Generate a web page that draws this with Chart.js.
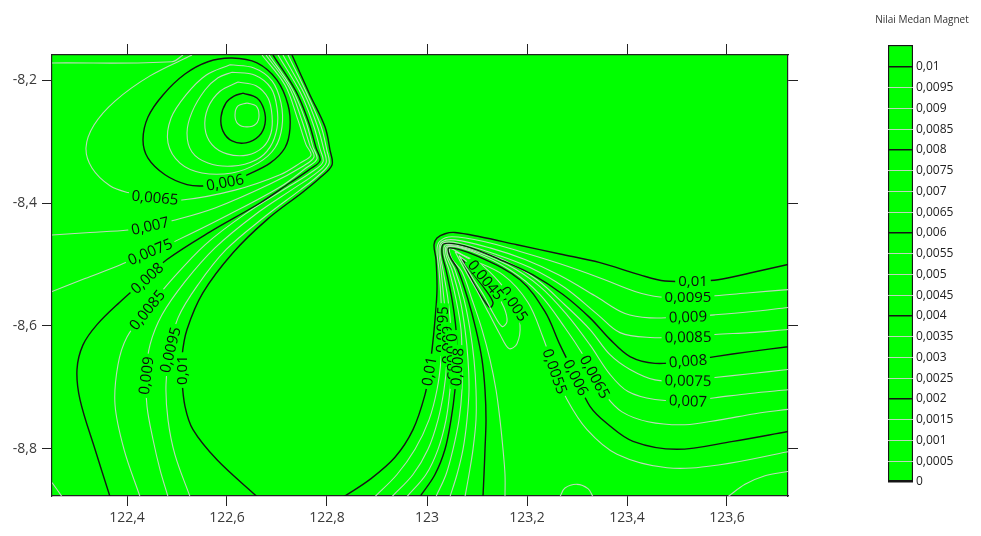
<!DOCTYPE html>
<html>
<head>
<meta charset="utf-8">
<script src="https://cdn.jsdelivr.net/npm/chart.js@4.4.1/dist/chart.umd.min.js"></script>
<style>
  body { margin: 0; background: #fff; width: 981px; height: 536px; overflow: hidden; position: relative; }
  #grafico { position: absolute; left: 0; top: 0; }
  #barra { position: absolute; left: 840px; top: 0; }
</style>
</head>
<body>
<canvas id="grafico" width="840" height="536"></canvas>
<canvas id="barra" width="141" height="536"></canvas>
<script>
// Marcas y rangos de los ejes
const ticksX = [122.4, 122.6, 122.8, 123, 123.2, 123.4, 123.6];
const ticksY = [-8.2, -8.4, -8.6, -8.8];
const rangoX = [122.25, 123.722];
const rangoY = [-8.877, -8.159];

// Niveles de la barra de colores
const nivelesBarra = [0, 0.0005, 0.001, 0.0015, 0.002, 0.0025, 0.003, 0.0035, 0.004, 0.0045, 0.005,
  0.0055, 0.006, 0.0065, 0.007, 0.0075, 0.008, 0.0085, 0.009, 0.0095, 0.01];
const maxBarra = 0.01053;

// Isolineas zona izquierda [lon, lat]
const izq_0065a = [[122.250,-8.172],[122.490,-8.170],[122.512,-8.159]];
const izq_0065 = [[122.670,-8.159],[122.716,-8.208],[122.742,-8.265],[122.758,-8.305],[122.768,-8.322],
  [122.746,-8.335],[122.706,-8.354],[122.616,-8.379],[122.510,-8.395],[122.456,-8.391],[122.402,-8.383],
  [122.366,-8.372],[122.330,-8.343],[122.318,-8.310],[122.334,-8.273],[122.376,-8.234],[122.446,-8.193],[122.530,-8.159]];
const izq_007 = [[122.678,-8.159],[122.724,-8.211],[122.750,-8.266],[122.766,-8.307],[122.774,-8.325],
  [122.752,-8.340],[122.686,-8.369],[122.576,-8.408],[122.490,-8.429],[122.446,-8.437],[122.402,-8.444],
  [122.326,-8.448],[122.250,-8.452]];
const izq_0075 = [[122.684,-8.159],[122.730,-8.214],[122.758,-8.268],[122.772,-8.309],[122.780,-8.328],
  [122.758,-8.343],[122.706,-8.374],[122.606,-8.418],[122.502,-8.460],[122.446,-8.479],[122.386,-8.501],
  [122.316,-8.523],[122.250,-8.544]];
const izq_0075b = [[122.250,-8.855],[122.270,-8.878]];
const izq_008 = [[122.692,-8.159],[122.738,-8.218],[122.764,-8.270],[122.778,-8.310],[122.786,-8.331],
  [122.764,-8.346],[122.726,-8.367],[122.666,-8.400],[122.566,-8.447],[122.480,-8.492],[122.440,-8.522],
  [122.386,-8.561],[122.340,-8.598],[122.312,-8.631],[122.300,-8.671],[122.306,-8.720],[122.336,-8.801],[122.366,-8.878]];
const izq_0085 = [[122.702,-8.159],[122.746,-8.219],[122.772,-8.271],[122.786,-8.312],[122.792,-8.333],
  [122.770,-8.349],[122.726,-8.372],[122.636,-8.418],[122.556,-8.468],[122.486,-8.528],[122.440,-8.574],
  [122.400,-8.618],[122.382,-8.663],[122.376,-8.728],[122.394,-8.801],[122.426,-8.878]];
const izq_009 = [[122.712,-8.159],[122.754,-8.221],[122.780,-8.273],[122.794,-8.314],[122.798,-8.335],
  [122.776,-8.353],[122.736,-8.375],[122.656,-8.419],[122.576,-8.473],[122.516,-8.528],[122.470,-8.582],
  [122.446,-8.631],[122.438,-8.681],[122.440,-8.731],[122.452,-8.785],[122.466,-8.834],[122.482,-8.878]];
const izq_0095 = [[122.722,-8.159],[122.760,-8.222],[122.788,-8.275],[122.800,-8.315],[122.804,-8.336],
  [122.782,-8.356],[122.746,-8.379],[122.676,-8.422],[122.598,-8.476],[122.542,-8.533],[122.502,-8.587],
  [122.486,-8.639],[122.478,-8.696],[122.482,-8.753],[122.496,-8.810],[122.526,-8.878]];
const izq_01 = [[122.730,-8.159],[122.766,-8.224],[122.796,-8.276],[122.806,-8.314],[122.810,-8.338],
  [122.786,-8.359],[122.752,-8.382],[122.680,-8.427],[122.612,-8.481],[122.552,-8.546],[122.520,-8.606],
  [122.510,-8.650],[122.510,-8.687],[122.516,-8.731],[122.532,-8.769],[122.580,-8.818],[122.660,-8.878]];

// Anillos del minimo superior izquierdo
const anillo_006 = [[122.636,-8.356],[122.686,-8.335],[122.716,-8.310],[122.726,-8.278],[122.722,-8.240],
  [122.700,-8.200],[122.660,-8.172],[122.610,-8.164],[122.562,-8.170],[122.516,-8.190],[122.472,-8.224],
  [122.442,-8.260],[122.432,-8.297],[122.442,-8.327],[122.476,-8.354],[122.520,-8.370],[122.556,-8.372],
  [122.596,-8.366],[122.636,-8.356]];
const anillo_0055 = [[122.606,-8.175],[122.654,-8.180],[122.690,-8.201],[122.708,-8.237],[122.710,-8.276],
  [122.696,-8.310],[122.662,-8.335],[122.610,-8.351],[122.550,-8.351],[122.506,-8.335],[122.482,-8.302],
  [122.488,-8.262],[122.518,-8.224],[122.558,-8.192],[122.606,-8.175]];
const anillo_005 = [[122.610,-8.187],[122.656,-8.192],[122.688,-8.213],[122.700,-8.245],[122.700,-8.278],
  [122.686,-8.309],[122.658,-8.330],[122.610,-8.340],[122.562,-8.335],[122.530,-8.317],[122.520,-8.286],
  [122.530,-8.252],[122.556,-8.216],[122.582,-8.196],[122.610,-8.187]];
const anillo_0045 = [[122.622,-8.203],[122.658,-8.209],[122.682,-8.229],[122.690,-8.257],[122.688,-8.286],
  [122.672,-8.309],[122.640,-8.322],[122.600,-8.320],[122.570,-8.305],[122.556,-8.278],[122.562,-8.245],
  [122.586,-8.218],[122.622,-8.203]];
const anillo_004 = [[122.632,-8.221],[122.660,-8.229],[122.674,-8.248],[122.676,-8.271],[122.664,-8.291],
  [122.638,-8.302],[122.610,-8.299],[122.592,-8.283],[122.588,-8.260],[122.598,-8.237],[122.614,-8.226],[122.632,-8.221]];
const anillo_0035 = [[122.640,-8.237],[122.658,-8.242],[122.664,-8.257],[122.658,-8.271],[122.640,-8.276],
  [122.622,-8.271],[122.616,-8.257],[122.622,-8.242],[122.640,-8.237]];

// Isolineas zona derecha: rama que baja + rama hacia la derecha
const der_01 = [[122.834,-8.878],[122.886,-8.850],[122.936,-8.814],[122.972,-8.769],[122.996,-8.712],
  [123.004,-8.674],[123.010,-8.639],[123.016,-8.590],[123.020,-8.541],[123.018,-8.492],[123.014,-8.468],
  [123.020,-8.457],[123.036,-8.450],[123.056,-8.448],[123.106,-8.455],[123.180,-8.468],[123.266,-8.483],
  [123.346,-8.497],[123.426,-8.517],[123.476,-8.527],[123.532,-8.527],[123.582,-8.525],[123.646,-8.514],[123.722,-8.500]];
const der_0095 = [[122.896,-8.878],[122.940,-8.842],[122.976,-8.801],[123.004,-8.753],[123.020,-8.704],
  [123.028,-8.655],[123.030,-8.606],[123.028,-8.557],[123.024,-8.509],[123.020,-8.476],[123.026,-8.462],
  [123.050,-8.455],[123.116,-8.463],[123.186,-8.479],[123.266,-8.499],[123.346,-8.522],[123.416,-8.544],
  [123.466,-8.553],[123.522,-8.553],[123.576,-8.551],[123.646,-8.546],[123.722,-8.541]];
const der_009 = [[122.930,-8.878],[122.972,-8.842],[123.002,-8.801],[123.022,-8.753],[123.034,-8.704],
  [123.040,-8.655],[123.040,-8.606],[123.034,-8.557],[123.028,-8.509],[123.024,-8.476],[123.030,-8.463],
  [123.056,-8.460],[123.126,-8.473],[123.196,-8.492],[123.266,-8.518],[123.336,-8.551],[123.396,-8.580],
  [123.446,-8.587],[123.522,-8.585],[123.576,-8.582],[123.646,-8.577],[123.722,-8.570]];
const der_0085 = [[122.960,-8.878],[122.998,-8.842],[123.022,-8.801],[123.038,-8.753],[123.046,-8.704],
  [123.050,-8.655],[123.048,-8.606],[123.042,-8.557],[123.032,-8.509],[123.026,-8.479],[123.032,-8.465],
  [123.062,-8.465],[123.136,-8.483],[123.206,-8.505],[123.276,-8.538],[123.342,-8.582],[123.386,-8.611],
  [123.446,-8.619],[123.522,-8.618],[123.576,-8.614],[123.646,-8.611],[123.722,-8.606]];
const der_008 = [[122.986,-8.878],[123.016,-8.842],[123.036,-8.801],[123.048,-8.753],[123.056,-8.704],
  [123.060,-8.655],[123.058,-8.606],[123.050,-8.557],[123.038,-8.509],[123.030,-8.481],[123.034,-8.466],
  [123.080,-8.471],[123.146,-8.492],[123.212,-8.517],[123.272,-8.549],[123.326,-8.587],[123.366,-8.622],
  [123.406,-8.650],[123.456,-8.661],[123.522,-8.657],[123.576,-8.650],[123.646,-8.642],[123.722,-8.634]];
const der_0075 = [[123.018,-8.878],[123.038,-8.842],[123.052,-8.801],[123.064,-8.753],[123.070,-8.704],
  [123.070,-8.655],[123.068,-8.606],[123.058,-8.557],[123.044,-8.509],[123.034,-8.483],[123.038,-8.468],
  [123.082,-8.473],[123.156,-8.494],[123.220,-8.525],[123.276,-8.566],[123.326,-8.606],[123.366,-8.647],
  [123.406,-8.671],[123.456,-8.688],[123.522,-8.689],[123.576,-8.684],[123.646,-8.678],[123.722,-8.671]];
const der_007 = [[123.046,-8.878],[123.060,-8.842],[123.072,-8.801],[123.080,-8.753],[123.084,-8.704],
  [123.082,-8.655],[123.076,-8.606],[123.066,-8.557],[123.050,-8.509],[123.038,-8.484],[123.040,-8.470],
  [123.086,-8.476],[123.162,-8.501],[123.226,-8.536],[123.280,-8.582],[123.326,-8.631],[123.366,-8.679],
  [123.402,-8.707],[123.456,-8.720],[123.522,-8.722],[123.576,-8.717],[123.646,-8.710],[123.722,-8.704]];
const der_0065 = [[123.076,-8.878],[123.084,-8.842],[123.092,-8.801],[123.098,-8.753],[123.098,-8.704],
  [123.094,-8.655],[123.086,-8.606],[123.074,-8.557],[123.056,-8.509],[123.042,-8.486],[123.042,-8.471],
  [123.090,-8.479],[123.166,-8.509],[123.226,-8.549],[123.276,-8.603],[123.312,-8.647],[123.336,-8.683],
  [123.358,-8.714],[123.390,-8.740],[123.442,-8.756],[123.516,-8.761],[123.586,-8.753],[123.656,-8.743],[123.722,-8.736]];
const der_006 = [[123.112,-8.878],[123.114,-8.842],[123.116,-8.801],[123.118,-8.753],[123.116,-8.704],
  [123.110,-8.655],[123.098,-8.606],[123.082,-8.557],[123.062,-8.509],[123.046,-8.487],[123.044,-8.473],
  [123.102,-8.487],[123.186,-8.525],[123.236,-8.577],[123.266,-8.631],[123.298,-8.684],[123.326,-8.731],
  [123.360,-8.759],[123.412,-8.788],[123.500,-8.801],[123.612,-8.788],[123.722,-8.772]];
const der_0055 = [[123.156,-8.878],[123.156,-8.842],[123.152,-8.801],[123.146,-8.753],[123.138,-8.704],
  [123.126,-8.655],[123.110,-8.606],[123.090,-8.557],[123.070,-8.512],[123.050,-8.491],[123.046,-8.474],
  [123.080,-8.489],[123.152,-8.517],[123.202,-8.562],[123.232,-8.619],[123.256,-8.674],[123.280,-8.720],
  [123.320,-8.769],[123.380,-8.809],[123.480,-8.831],[123.586,-8.826],[123.722,-8.805]];
const der_005 = [[123.056,-8.479],[123.106,-8.499],[123.146,-8.530],[123.174,-8.564],[123.186,-8.598],
  [123.180,-8.629],[123.164,-8.637],[123.146,-8.614],[123.124,-8.580],[123.102,-8.546],[123.078,-8.512],[123.056,-8.479]];
const der_0045 = [[123.064,-8.486],[123.102,-8.510],[123.134,-8.541],[123.154,-8.570],[123.160,-8.593],
  [123.150,-8.601],[123.132,-8.579],[123.114,-8.551],[123.092,-8.523],[123.064,-8.486]];
const der_004 = [[123.070,-8.491],[123.092,-8.515],[123.116,-8.540],[123.132,-8.562],[123.126,-8.570],
  [123.112,-8.556],[123.096,-8.535],[123.074,-8.499],[123.070,-8.491]];
const abajo_005a = [[123.266,-8.878],[123.276,-8.864],[123.300,-8.858],[123.322,-8.865],[123.332,-8.878]];
const abajo_005b = [[123.602,-8.878],[123.636,-8.858],[123.676,-8.844],[123.722,-8.837]];

// Nivel de cada isolinea
const isolineas = [
  [0.0065, izq_0065a], [0.0065, izq_0065], [0.007, izq_007], [0.0075, izq_0075], [0.0075, izq_0075b],
  [0.008, izq_008], [0.0085, izq_0085], [0.009, izq_009], [0.0095, izq_0095], [0.01, izq_01],
  [0.006, anillo_006], [0.0055, anillo_0055], [0.005, anillo_005], [0.0045, anillo_0045],
  [0.004, anillo_004], [0.0035, anillo_0035],
  [0.01, der_01], [0.0095, der_0095], [0.009, der_009], [0.0085, der_0085], [0.008, der_008],
  [0.0075, der_0075], [0.007, der_007], [0.0065, der_0065], [0.006, der_006], [0.0055, der_0055],
  [0.005, der_005], [0.0045, der_0045], [0.004, der_004], [0.005, abajo_005a], [0.005, abajo_005b]
];

// Rotulos sobre las isolineas [nivel, lon, lat]
const etiquetas = [
  [0.006, 122.596, -8.366], [0.0065, 122.456, -8.391], [0.007, 122.446, -8.437], [0.0075, 122.446, -8.479],
  [0.008, 122.440, -8.522], [0.0085, 122.440, -8.574], [0.009, 122.438, -8.681], [0.0095, 122.486, -8.639],
  [0.01, 122.510, -8.672],
  [0.01, 123.532, -8.527], [0.0095, 123.522, -8.553], [0.009, 123.522, -8.585], [0.0085, 123.522, -8.618],
  [0.008, 123.522, -8.657], [0.0075, 123.522, -8.689], [0.007, 123.522, -8.722],
  [0.0065, 123.336, -8.683], [0.006, 123.298, -8.684], [0.0055, 123.256, -8.674],
  [0.005, 123.174, -8.564], [0.0045, 123.118, -8.525],
  [0.01, 123.004, -8.674], [0.0095, 123.030, -8.606], [0.009, 123.040, -8.631],
  [0.0085, 123.050, -8.650], [0.008, 123.060, -8.667]
];

const VERDE = '#00ff00';

function esNegra(nivel) {
  return Math.round(nivel * 10000) % 20 === 0;
}

function formato(v) {
  return String(v).replace('.', ',');
}

// distancia de un punto a un segmento
function distSeg(px, py, ax, ay, bx, by) {
  const dx = bx - ax, dy = by - ay;
  const l2 = dx * dx + dy * dy || 1;
  let t = ((px - ax) * dx + (py - ay) * dy) / l2;
  t = Math.max(0, Math.min(1, t));
  return Math.hypot(px - (ax + t * dx), py - (ay + t * dy));
}

// Fondo verde del area de trazado
const fondoVerde = {
  id: 'fondoVerde',
  beforeDraw(chart) {
    const { ctx, chartArea: a } = chart;
    ctx.save();
    ctx.fillStyle = VERDE;
    ctx.fillRect(a.left, a.top, a.right - a.left, a.bottom - a.top);
    ctx.restore();
  }
};

// Rotulos girados segun la direccion de la linea
const rotulos = {
  id: 'rotulos',
  afterDatasetsDraw(chart) {
    const { ctx, chartArea: a, scales: { x, y } } = chart;
    ctx.save();
    ctx.beginPath();
    ctx.rect(a.left, a.top, a.right - a.left, a.bottom - a.top);
    ctx.clip();
    ctx.font = '15px "Open Sans"';
    ctx.textAlign = 'center';
    ctx.textBaseline = 'middle';
    etiquetas.forEach(([nivel, lon, lat]) => {
      const px = x.getPixelForValue(lon), py = y.getPixelForValue(lat);
      let mejor = Infinity, ang = 0;
      isolineas.forEach(([n, pts]) => {
        if (n !== nivel) return;
        for (let i = 1; i < pts.length; i++) {
          const ax = x.getPixelForValue(pts[i - 1][0]), ay = y.getPixelForValue(pts[i - 1][1]);
          const bx = x.getPixelForValue(pts[i][0]), by = y.getPixelForValue(pts[i][1]);
          const d = distSeg(px, py, ax, ay, bx, by);
          if (d < mejor) { mejor = d; ang = Math.atan2(by - ay, bx - ax); }
        }
      });
      if (ang >= Math.PI / 2) ang -= Math.PI;
      if (ang < -Math.PI / 2) ang += Math.PI;
      const texto = formato(nivel);
      const w = ctx.measureText(texto).width;
      ctx.save();
      ctx.translate(px, py);
      ctx.rotate(ang);
      ctx.fillStyle = VERDE;
      ctx.fillRect(-w / 2 - 3, -6, w + 6, 12);
      ctx.fillStyle = '#0d0d0d';
      ctx.fillText(texto, 0, 1);
      ctx.restore();
    });
    ctx.restore();
  }
};

const datasets = isolineas.map(([nivel, pts]) => ({
  data: pts.map(p => ({ x: p[0], y: p[1] })),
  showLine: true,
  pointRadius: 0,
  borderWidth: esNegra(nivel) ? 1.4 : 1.1,
  borderColor: esNegra(nivel) ? '#151515' : 'rgba(200,212,198,0.95)',
  tension: 0.35,
  borderJoinStyle: 'round'
}));

const fuenteEje = { family: '"Open Sans"', size: 14 };

function ejeX(posicion, alto, conTexto) {
  return {
    type: 'linear', position: posicion, min: rangoX[0], max: rangoX[1],
    afterBuildTicks: s => { s.ticks = ticksX.map(v => ({ value: v })); },
    afterFit: s => { s.height = alto; },
    grid: { drawOnChartArea: false, color: '#222', tickLength: posicion === 'top' ? 11 : 10 },
    border: { display: true, color: '#222', width: 1.2 },
    ticks: { display: conTexto, autoSkip: false, maxRotation: 0, padding: 4, font: fuenteEje, color: '#3a3a3a', callback: v => formato(v) }
  };
}

function ejeY(posicion, ancho, conTexto) {
  return {
    type: 'linear', position: posicion, min: rangoY[0], max: rangoY[1],
    afterBuildTicks: s => { s.ticks = ticksY.map(v => ({ value: v })); },
    afterFit: s => { s.width = ancho; },
    grid: { drawOnChartArea: false, color: '#222', tickLength: 10 },
    border: { display: true, color: '#222', width: 1.2 },
    ticks: { display: conTexto, autoSkip: false, padding: 5, font: fuenteEje, color: '#3a3a3a', callback: v => formato(v) }
  };
}

new Chart(document.getElementById('grafico'), {
  type: 'scatter',
  data: { datasets },
  options: {
    responsive: false,
    animation: false,
    events: [],
    layout: { padding: 0 },
    plugins: { legend: { display: false }, tooltip: { enabled: false } },
    scales: {
      x: ejeX('bottom', 40, true),
      x2: ejeX('top', 55, false),
      y: ejeY('left', 52, true),
      y2: ejeY('right', 52, false)
    }
  },
  plugins: [fondoVerde, rotulos]
});

// Titulo de la barra de colores
const tituloBarra = {
  id: 'tituloBarra',
  afterDraw(chart) {
    const ctx = chart.ctx;
    ctx.save();
    ctx.font = '10px "Open Sans"';
    ctx.fillStyle = '#333';
    ctx.textAlign = 'center';
    ctx.textBaseline = 'middle';
    ctx.fillText('Nilai Medan Magnet', 82, 20);
    ctx.restore();
  }
};

new Chart(document.getElementById('barra'), {
  type: 'bar',
  data: {
    labels: [''],
    datasets: [{
      data: [[0, maxBarra]],
      backgroundColor: VERDE,
      borderColor: '#151515',
      borderWidth: 1.5,
      borderSkipped: false,
      barPercentage: 1,
      categoryPercentage: 1
    }]
  },
  options: {
    responsive: false,
    animation: false,
    events: [],
    layout: { padding: { left: 48, top: 45, bottom: 54, right: 0 } },
    plugins: { legend: { display: false }, tooltip: { enabled: false } },
    scales: {
      x: { display: false },
      y: {
        position: 'right', min: 0, max: maxBarra,
        afterBuildTicks: s => { s.ticks = nivelesBarra.map(v => ({ value: v })); },
        afterFit: s => { s.width = 68; },
        grid: {
          z: 1,
          drawTicks: false,
          color: c => esNegra(c.tick.value) ? '#151515' : 'rgba(200,212,198,0.95)',
          lineWidth: c => esNegra(c.tick.value) ? 1.5 : 1
        },
        border: { display: false },
        ticks: { padding: 3, autoSkip: false, font: { family: '"Open Sans"', size: 12 }, color: '#222', callback: v => formato(v) }
      }
    }
  },
  plugins: [tituloBarra]
});
</script>
</body>
</html>
